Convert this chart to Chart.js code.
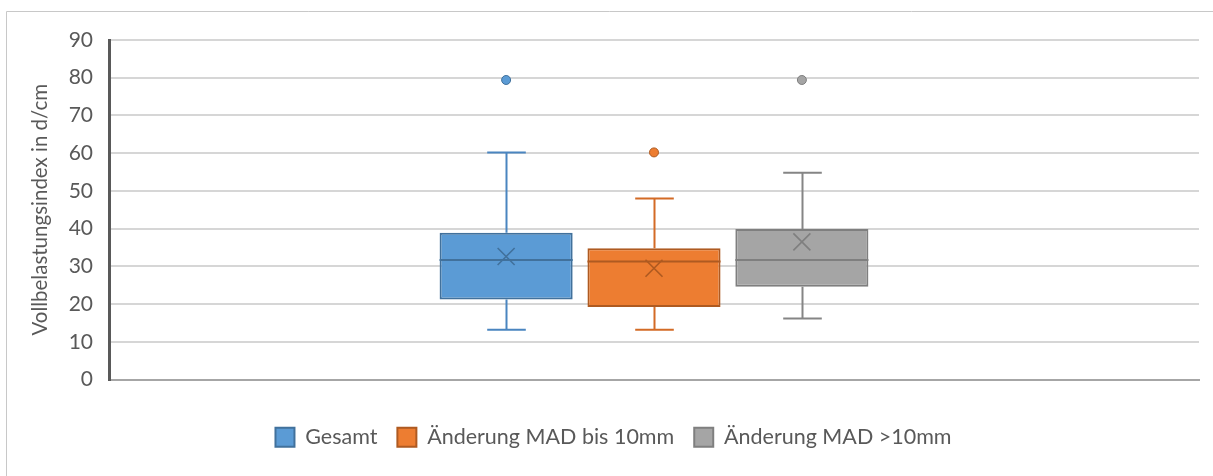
<!DOCTYPE html>
<html>
<head>
<meta charset="utf-8">
<script src="https://cdn.jsdelivr.net/npm/chart.js@4.4.0/dist/chart.umd.min.js"></script>
<style>
  html, body { margin: 0; padding: 0; background: #ffffff; }
  #wrap { width: 1213px; height: 476px; position: relative; }
</style>
</head>
<body>
<div id="wrap"><canvas id="c" width="1213" height="476"></canvas></div>
<script>
// ---- data ----
const categories = ['Gesamt', 'Änderung MAD bis 10mm', 'Änderung MAD >10mm'];
const minValues = [13.2, 13.2, 16.2];
const q1Values = [21.2, 19.2, 24.6];
const medianValues = [31.7, 31.3, 31.7];
const q3Values = [38.9, 34.8, 39.9];
const maxValues = [60.2, 48.0, 54.8];
const meanValues = [32.6, 29.5, 36.5];
const outlierValues = [[79.4], [60.2], [79.4]];
const yTicks = [0, 10, 20, 30, 40, 50, 60, 70, 80, 90];
const yTitle = 'Vollbelastungsindex in d/cm';

const fillColors = ['#5b9bd5', '#ed7d31', '#a5a5a5'];
const lineColors = ['#41719c', '#ae5a21', '#7f7f7f'];
const whiskerColors = ['#4a85c0', '#d36b26', '#858585'];

const FONT = 'Lato, "Open Sans", "Liberation Sans", sans-serif';

const datasets = categories.map((name, i) => ({
  label: name,
  data: [[q1Values[i], q3Values[i]]],
  backgroundColor: fillColors[i],
  borderColor: lineColors[i],
  borderWidth: 2,
  borderSkipped: false,
  categoryPercentage: 0.407,
  barPercentage: 0.9
}));

const framePlugin = {
  id: 'frame',
  beforeDraw(chart) {
    const ctx = chart.ctx;
    ctx.save();
    ctx.fillStyle = '#ffffff';
    ctx.fillRect(0, 0, chart.width, chart.height);
    ctx.strokeStyle = '#c8c8c8';
    ctx.lineWidth = 1;
    ctx.beginPath();
    ctx.moveTo(6.5, chart.height);
    ctx.lineTo(6.5, 11.5);
    ctx.lineTo(chart.width, 11.5);
    ctx.stroke();
    ctx.restore();
  }
};

const boxPlugin = {
  id: 'boxWhiskers',
  beforeDatasetsDraw(chart) {
    const ctx = chart.ctx;
    const ys = chart.scales.y;
    chart.data.datasets.forEach((ds, i) => {
      const meta = chart.getDatasetMeta(i);
      meta.data.forEach((bar) => {
        const cx = Math.round(bar.x) + 0.5;
        const capHalf = bar.width * 0.145;
        ctx.save();
        ctx.strokeStyle = whiskerColors[i];
        ctx.lineWidth = 2;
        const yMax = ys.getPixelForValue(maxValues[i]);
        const yQ3 = ys.getPixelForValue(q3Values[i]);
        const yQ1 = ys.getPixelForValue(q1Values[i]);
        const yMin = ys.getPixelForValue(minValues[i]);
        ctx.beginPath();
        ctx.moveTo(cx, yQ3); ctx.lineTo(cx, yMax);
        ctx.moveTo(cx - capHalf, yMax); ctx.lineTo(cx + capHalf, yMax);
        ctx.moveTo(cx, yQ1); ctx.lineTo(cx, yMin);
        ctx.moveTo(cx - capHalf, yMin); ctx.lineTo(cx + capHalf, yMin);
        ctx.stroke();
        ctx.restore();
      });
    });
  },
  afterDatasetsDraw(chart) {
    const ctx = chart.ctx;
    const ys = chart.scales.y;
    chart.data.datasets.forEach((ds, i) => {
      const meta = chart.getDatasetMeta(i);
      meta.data.forEach((bar) => {
        const cx = bar.x;
        const half = bar.width / 2;
        ctx.save();
        const yMed = ys.getPixelForValue(medianValues[i]);
        ctx.strokeStyle = lineColors[i];
        ctx.lineWidth = 2;
        ctx.beginPath();
        ctx.moveTo(cx - half, yMed); ctx.lineTo(cx + half, yMed);
        ctx.stroke();
        const yMean = ys.getPixelForValue(meanValues[i]);
        const m = 8.5;
        ctx.lineWidth = 1.6;
        ctx.beginPath();
        ctx.moveTo(cx - m, yMean - m); ctx.lineTo(cx + m, yMean + m);
        ctx.moveTo(cx + m, yMean - m); ctx.lineTo(cx - m, yMean + m);
        ctx.stroke();
        outlierValues[i].forEach(v => {
          const yo = ys.getPixelForValue(v);
          ctx.beginPath();
          ctx.arc(cx, yo, 4.5, 0, Math.PI * 2);
          ctx.fillStyle = fillColors[i];
          ctx.fill();
          ctx.lineWidth = 1;
          ctx.strokeStyle = lineColors[i];
          ctx.stroke();
        });
        ctx.restore();
      });
    });
  }
};

new Chart(document.getElementById('c'), {
  type: 'bar',
  data: { labels: [''], datasets },
  plugins: [framePlugin, boxPlugin],
  options: {
    responsive: false,
    animation: false,
    devicePixelRatio: 1,
    layout: { padding: { top: 40, right: 14, bottom: 18, left: 28 } },
    plugins: {
      tooltip: { enabled: false },
      legend: {
        position: 'bottom',
        labels: {
          font: { family: FONT, size: 21.5 },
          color: '#595959',
          boxWidth: 19,
          boxHeight: 19,
          padding: 20
        }
      }
    },
    scales: {
      x: {
        grid: { display: false },
        border: { display: true, color: '#a6a6a6', width: 2 },
        ticks: { display: false },
        afterFit: (s) => { s.height = 27; }
      },
      y: {
        min: 0,
        max: 90,
        afterBuildTicks: (s) => { s.ticks = yTicks.map(v => ({ value: v })); },
        grid: { color: '#d6d6d6', lineWidth: 2, drawTicks: false },
        border: { display: true, color: '#595959', width: 3 },
        ticks: {
          font: { family: FONT, size: 21 },
          color: '#595959',
          padding: 16
        },
        title: {
          display: true,
          text: yTitle,
          font: { family: FONT, size: 20.5 },
          color: '#595959',
          padding: { top: 0, bottom: 6 }
        },
        afterFit: (s) => { s.width = 81; }
      }
    }
  }
});
</script>
</body>
</html>
